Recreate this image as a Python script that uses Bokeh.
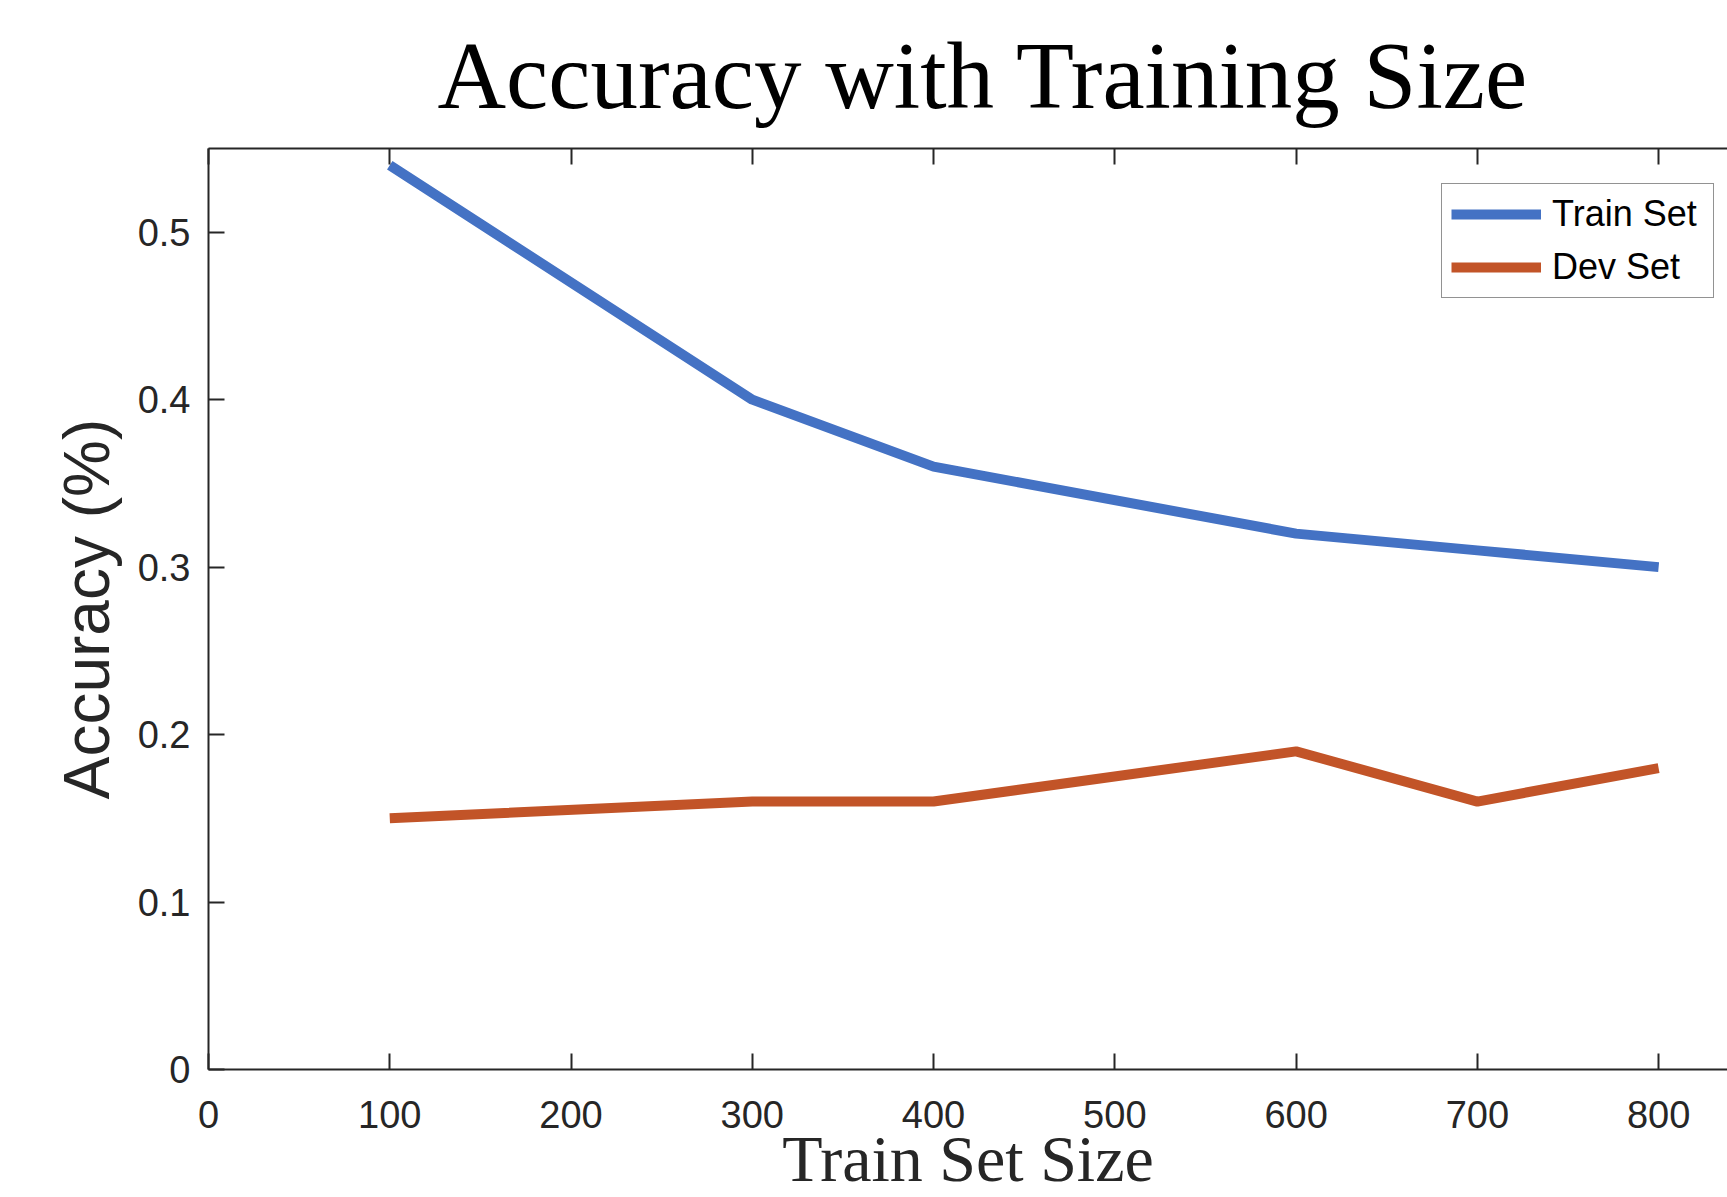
from bokeh.plotting import figure
from bokeh.models import (LinearAxis, FixedTicker, Range1d, Legend, LegendItem, Title)
from bokeh.embed import file_html
from bokeh.resources import INLINE

# ---- data ----
train_size = [100, 300, 400, 600, 700, 800]
train_acc = [0.54, 0.40, 0.36, 0.32, 0.31, 0.30]
dev_acc = [0.15, 0.16, 0.16, 0.19, 0.16, 0.18]
series_names = ["Train Set", "Dev Set"]
x_ticks = [0, 100, 200, 300, 400, 500, 600, 700, 800]
y_ticks = [0, 0.1, 0.2, 0.3, 0.4, 0.5]
y_tick_labels = ["0", "0.1", "0.2", "0.3", "0.4", "0.5"]
title_text = "Accuracy with Training Size"
x_label = "Train Set Size"
y_label = "Accuracy (%)"

AX = "#262626"
BLUE = "#4472C4"
ORANGE = "#C25428"

p = figure(width=1727, height=1197, x_range=Range1d(0, 838), y_range=Range1d(0, 0.55),
           output_backend="svg", toolbar_location=None,
           min_border_left=208, min_border_right=0, min_border_top=148, min_border_bottom=128,
           x_axis_location=None, y_axis_location=None)
p.outline_line_color = None
p.xgrid.visible = False
p.ygrid.visible = False
p.background_fill_color = "white"
p.border_fill_color = "white"

def style_axis(ax, labels=True):
    ax.axis_line_color = AX
    ax.axis_line_width = 2
    ax.major_tick_line_color = AX
    ax.major_tick_line_width = 2
    ax.major_tick_in = 16
    ax.major_tick_out = 0
    ax.minor_tick_line_color = None
    ax.major_label_text_font = "Liberation Sans"
    ax.major_label_text_font_size = "38px"
    ax.major_label_text_color = AX
    if not labels:
        ax.major_label_text_font_size = "0px"
        ax.major_label_text_color = None

xb = LinearAxis(ticker=FixedTicker(ticks=x_ticks))
style_axis(xb)
xb.major_label_standoff = 31
xb.axis_label = x_label
xb.axis_label_text_font = "Liberation Serif"
xb.axis_label_text_font_size = "66px"
xb.axis_label_text_font_style = "normal"
xb.axis_label_text_color = AX
xb.axis_label_standoff = -9
p.add_layout(xb, "below")

xt = LinearAxis(ticker=FixedTicker(ticks=x_ticks))
style_axis(xt, labels=False)
xt.major_label_standoff = 0
p.add_layout(xt, "above")

yl = LinearAxis(ticker=FixedTicker(ticks=y_ticks),
                major_label_overrides={t: s for t, s in zip(y_ticks, y_tick_labels)})
style_axis(yl)
yl.major_label_standoff = 18
yl.axis_label = y_label
yl.axis_label_text_font = "Liberation Sans"
yl.axis_label_text_font_size = "64px"
yl.axis_label_text_font_style = "normal"
yl.axis_label_text_color = AX
yl.axis_label_standoff = 12
p.add_layout(yl, "left")

t = Title(text=title_text, text_font="Liberation Serif", text_font_size="95px",
          text_font_style="normal", text_color="black", align="left", offset=229,
          standoff=40)
p.add_layout(t, "above")

r1 = p.line(train_size, train_acc, line_color=BLUE, line_width=10)
r2 = p.line(train_size, dev_acc, line_color=ORANGE, line_width=10)

leg = Legend(items=[LegendItem(label=series_names[0], renderers=[r1]),
                    LegendItem(label=series_names[1], renderers=[r2])],
             location=(1233, 771))
leg.label_text_font = "Liberation Sans"
leg.label_text_font_size = "36px"
leg.label_text_color = "black"
leg.glyph_width = 90
leg.glyph_height = 40
leg.label_height = 40
leg.label_width = 152
leg.label_standoff = 11
leg.spacing = 11
leg.padding = 9
leg.margin = 0
leg.border_line_color = AX
leg.border_line_width = 1.5
leg.background_fill_color = "white"
leg.background_fill_alpha = 1
p.add_layout(leg, "center")

open("out.html", "w").write(file_html(p, INLINE))
